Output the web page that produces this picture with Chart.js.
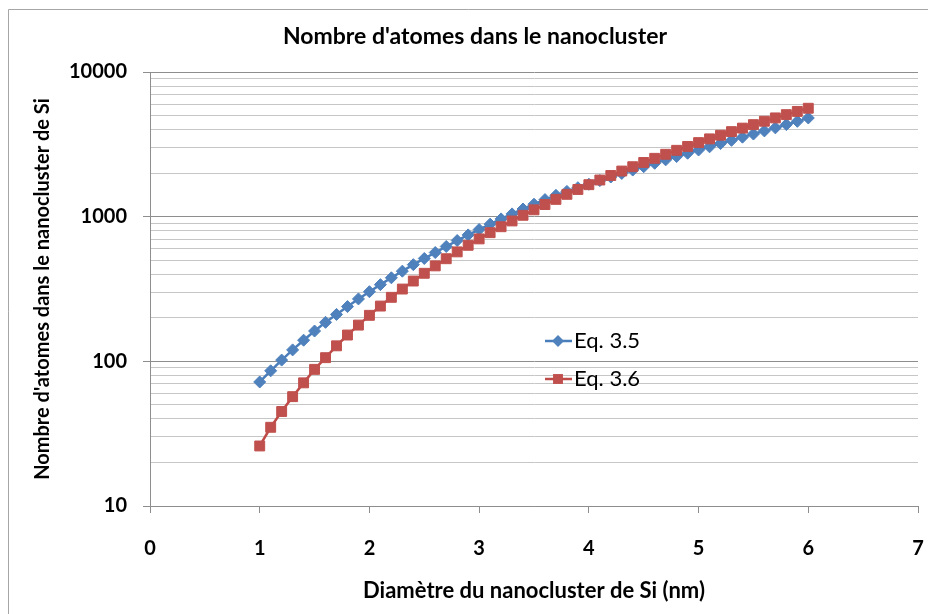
<!DOCTYPE html>
<html>
<head>
<meta charset="UTF-8">
<title>Nombre d'atomes dans le nanocluster</title>
<script src="https://cdn.jsdelivr.net/npm/chart.js"></script>
<style>
body{margin:0;background:white;}
#wrap{width:928px;height:614px;}
</style>
</head>
<body>
<div id="wrap"><canvas id="chart" width="928" height="614"></canvas></div>
<script>
// diamètre du nanocluster (nm)
const diam = [1.0,1.1,1.2,1.3,1.4,1.5,1.6,1.7,1.8,1.9,
  2.0,2.1,2.2,2.3,2.4,2.5,2.6,2.7,2.8,2.9,
  3.0,3.1,3.2,3.3,3.4,3.5,3.6,3.7,3.8,3.9,
  4.0,4.1,4.2,4.3,4.4,4.5,4.6,4.7,4.8,4.9,
  5.0,5.1,5.2,5.3,5.4,5.5,5.6,5.7,5.8,5.9,6.0];

// nombre d'atomes, Eq. 3.5
const eq35 = [72,86,102,120,140,162,186,211,239,270,
  303,339,378,420,466,514,565,622,684,748,
  815,888,965,1045,1130,1220,1312,1405,1495,1585,
  1675,1775,1880,1990,2100,2215,2340,2470,2605,2745,
  2890,3040,3200,3370,3545,3725,3915,4110,4330,4560,4810];

// nombre d'atomes, Eq. 3.6
const eq36 = [26,35,45,57,71,88,106,128,152,178,
  208,241,277,316,359,406,457,512,571,634,
  702,775,852,934,1022,1115,1213,1317,1427,1542,
  1664,1792,1926,2067,2215,2369,2531,2699,2875,3059,
  3250,3449,3656,3871,4094,4326,4566,4815,5073,5340,5616];

const yMajor = [10,100,1000,10000];
const xTicks = [0,1,2,3,4,5,6,7];

const FONT = 'Lato';
const isMajor = v => yMajor.includes(v);

// white background + thin frame (top and left edges only)
const frame = {
  id:'frame',
  beforeDraw(chart){
    const c = chart.ctx;
    c.save();
    c.fillStyle = '#fff';
    c.fillRect(0,0,chart.width,chart.height);
    c.strokeStyle = '#a6a6a6';
    c.lineWidth = 1;
    c.beginPath();
    c.moveTo(8.5,chart.height);
    c.lineTo(8.5,9.5);
    c.lineTo(chart.width,9.5);
    c.stroke();
    c.restore();
  }
};

// legend drawn inside the plot area
const innerLegend = {
  id:'innerLegend',
  afterDraw(chart){
    const c = chart.ctx;
    const rows = [341, 379];
    c.save();
    chart.data.datasets.forEach((ds,i)=>{
      const y = rows[i];
      c.strokeStyle = ds.borderColor;
      c.lineWidth = ds.borderWidth;
      c.beginPath();
      c.moveTo(545,y);
      c.lineTo(572,y);
      c.stroke();
      c.fillStyle = ds.pointBackgroundColor;
      c.beginPath();
      if(ds.pointStyle === 'rectRot'){
        const r = ds.pointRadius;
        c.moveTo(558,y-r); c.lineTo(558+r,y); c.lineTo(558,y+r); c.lineTo(558-r,y);
        c.closePath();
      } else {
        const s = ds.pointRadius*Math.SQRT1_2;
        c.rect(558-s,y-s,2*s,2*s);
      }
      c.fill();
      c.fillStyle = '#000';
      c.font = '22px ' + FONT;
      c.textBaseline = 'middle';
      c.textAlign = 'left';
      c.fillText(ds.label,574,y);
    });
    c.restore();
  }
};

new Chart(document.getElementById('chart'),{
  type:'line',
  data:{
    datasets:[
      {
        label:'Eq. 3.5',
        data:diam.map((d,i)=>({x:d,y:eq35[i]})),
        borderColor:'#4a7ebb',
        backgroundColor:'#4f81bd',
        pointBackgroundColor:'#4f81bd',
        pointBorderColor:'#4f81bd',
        borderWidth:2.5,
        pointStyle:'rectRot',
        pointRadius:6,
        pointBorderWidth:1,
        tension:0,
        order:1
      },
      {
        label:'Eq. 3.6',
        data:diam.map((d,i)=>({x:d,y:eq36[i]})),
        borderColor:'#be4b48',
        backgroundColor:'#c0504d',
        pointBackgroundColor:'#c0504d',
        pointBorderColor:'#c0504d',
        borderWidth:2.5,
        pointStyle:'rect',
        pointRadius:7,
        pointBorderWidth:1,
        tension:0,
        order:0
      }
    ]
  },
  options:{
    responsive:false,
    animation:false,
    devicePixelRatio:1,
    layout:{padding:{left:32,right:10,top:0,bottom:0}},
    plugins:{
      legend:{display:false},
      tooltip:{enabled:false},
      title:{
        display:true,
        text:"Nombre d'atomes dans le nanocluster",
        color:'#000',
        font:{family:FONT,size:23,weight:'bold'},
        padding:{top:23.2,bottom:21.2}
      }
    },
    scales:{
      x:{
        type:'linear',
        min:0,max:7,
        afterBuildTicks(scale){ scale.ticks = xTicks.map(v=>({value:v})); },
        afterFit(scale){
          scale.height = 108;
          scale.paddingLeft = 0;
          scale.paddingRight = 0;
        },
        ticks:{color:'#000',font:{family:FONT,size:20,weight:'bold'},padding:24,autoSkip:false},
        grid:{drawOnChartArea:false,tickLength:7,color:'#8e8e8e'},
        border:{color:'#8e8e8e'},
        title:{
          display:true,
          text:'Diamètre du nanocluster de Si (nm)',
          color:'#000',
          font:{family:FONT,size:22,weight:'bold'},
          padding:{top:0,bottom:9.8}
        }
      },
      y:{
        type:'logarithmic',
        min:10,max:10000,
        afterBuildTicks(scale){
          const t = [];
          yMajor.forEach((m,i)=>{
            t.push({value:m,major:true});
            if(i < yMajor.length-1){
              for(let k=2;k<10;k++) t.push({value:m*k});
            }
          });
          scale.ticks = t;
        },
        afterFit(scale){ scale.width = 118; },
        ticks:{
          color:'#000',
          font:{family:FONT,size:20,weight:'bold'},
          padding:16,
          autoSkip:false,
          callback:v => isMajor(v) ? String(v) : ''
        },
        grid:{
          color:ctx => ctx.tick && isMajor(ctx.tick.value) ? '#8e8e8e' : '#c6c6c6',
          tickColor:ctx => ctx.tick && isMajor(ctx.tick.value) ? '#8e8e8e' : 'rgba(0,0,0,0)',
          tickLength:7
        },
        border:{color:'#8e8e8e'},
        title:{
          display:true,
          text:"Nombre d'atomes dans le nanocluster de Si",
          color:'#000',
          font:{family:FONT,size:20,weight:'bold'},
          padding:{top:-1,bottom:0}
        }
      }
    }
  },
  plugins:[frame,innerLegend]
});
</script>
</body>
</html>
